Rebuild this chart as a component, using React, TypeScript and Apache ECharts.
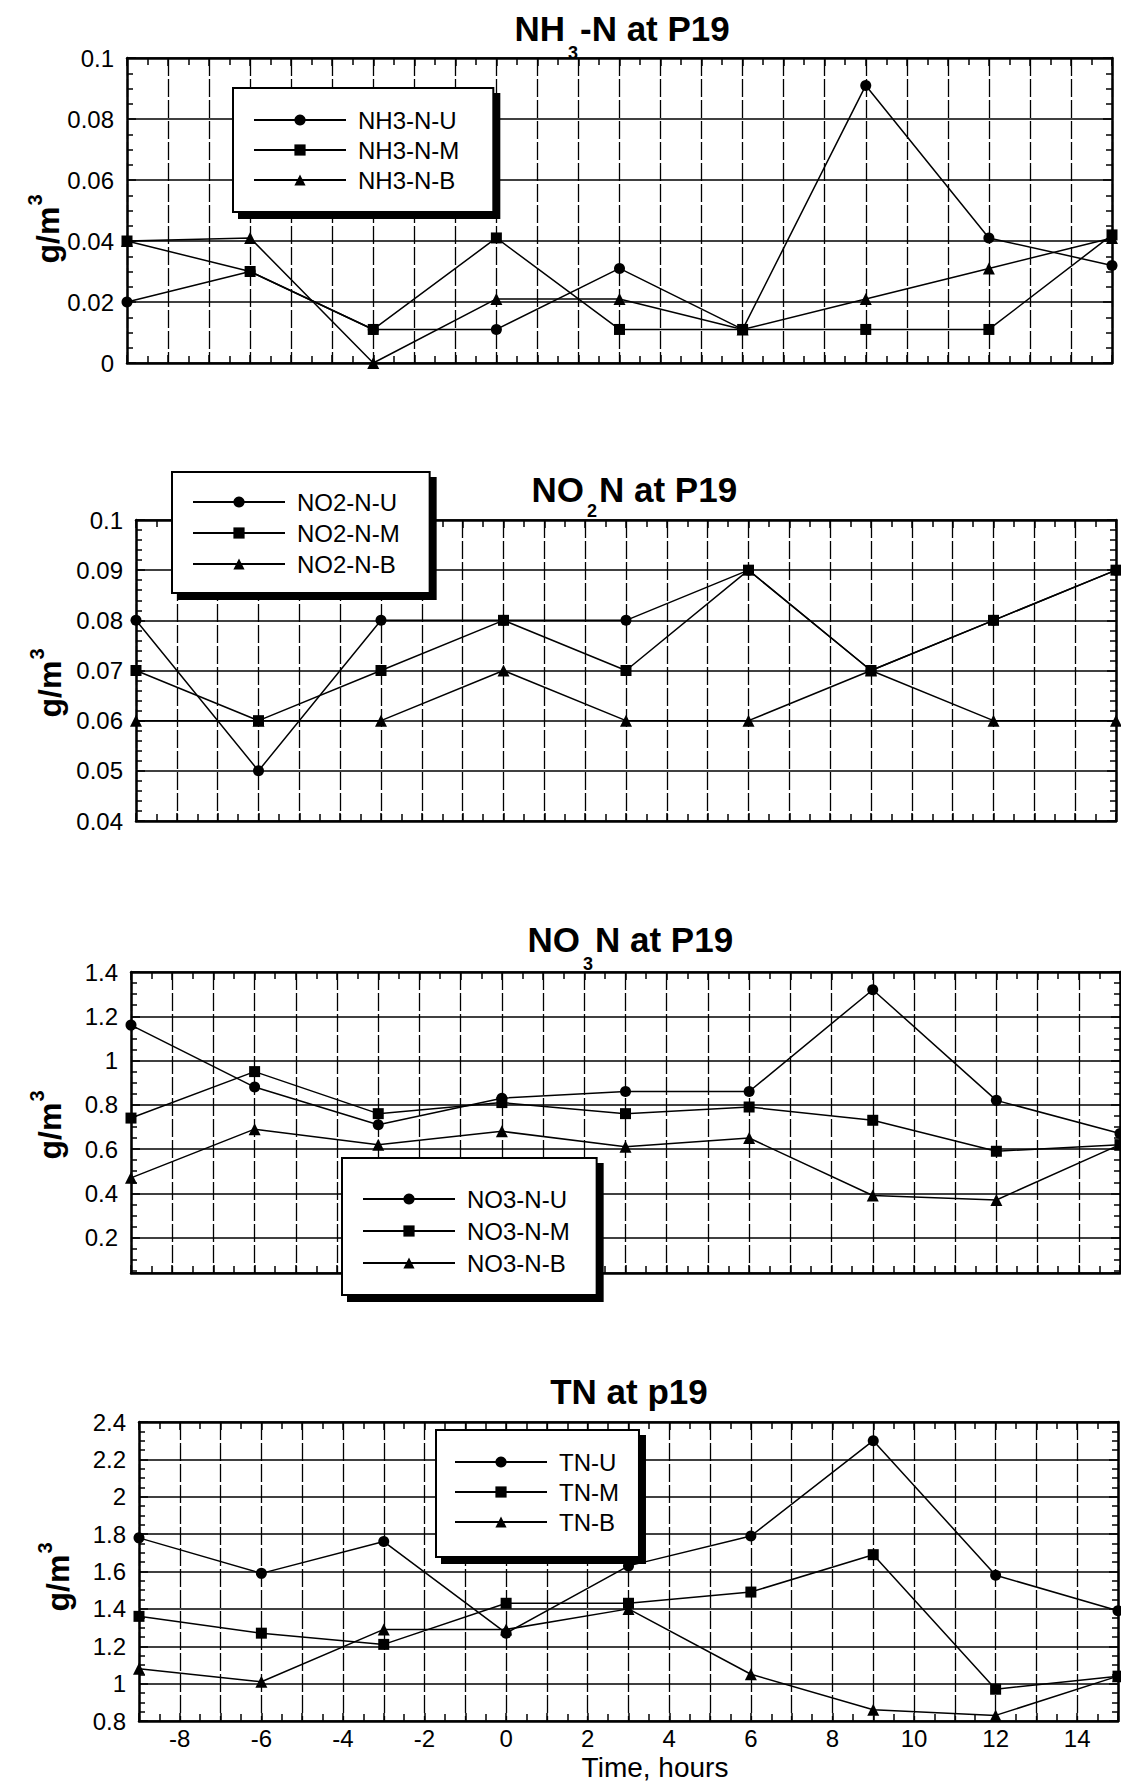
import React, { useEffect, useRef } from 'react';
import * as echarts from 'echarts';

// ---------- data ----------
const hours = [-9, -6, -3, 0, 3, 6, 9, 12, 15];

const nh3Names = ['NH3-N-U', 'NH3-N-M', 'NH3-N-B'];
const nh3U = [0.02, 0.03, 0.011, 0.011, 0.031, 0.011, 0.091, 0.041, 0.032];
const nh3M = [0.04, 0.03, 0.011, 0.041, 0.011, 0.011, 0.011, 0.011, 0.042];
const nh3B = [0.04, 0.041, 0.0, 0.021, 0.021, 0.011, 0.021, 0.031, 0.041];

const no2Names = ['NO2-N-U', 'NO2-N-M', 'NO2-N-B'];
const no2U = [0.08, 0.05, 0.08, 0.08, 0.08, 0.09, 0.07, 0.08, 0.09];
const no2M = [0.07, 0.06, 0.07, 0.08, 0.07, 0.09, 0.07, 0.08, 0.09];
const no2B = [0.06, 0.06, 0.06, 0.07, 0.06, 0.06, 0.07, 0.06, 0.06];

const no3Names = ['NO3-N-U', 'NO3-N-M', 'NO3-N-B'];
const no3U = [1.16, 0.88, 0.71, 0.83, 0.86, 0.86, 1.32, 0.82, 0.67];
const no3M = [0.74, 0.95, 0.76, 0.81, 0.76, 0.79, 0.73, 0.59, 0.62];
const no3B = [0.47, 0.69, 0.62, 0.68, 0.61, 0.65, 0.39, 0.37, 0.62];

const tnNames = ['TN-U', 'TN-M', 'TN-B'];
const tnU = [1.78, 1.59, 1.76, 1.27, 1.63, 1.79, 2.3, 1.58, 1.39];
const tnM = [1.36, 1.27, 1.21, 1.43, 1.43, 1.49, 1.69, 0.97, 1.04];
const tnB = [1.08, 1.01, 1.29, 1.29, 1.4, 1.05, 0.86, 0.83, 1.04];

const xMin = -9;
const xMax = 15;
const xTitle = 'Time, hours';
const yTitle = 'g/m';

// ---------- layout / styling ----------
const FONT = "'Liberation Sans', Arial, Helvetica, sans-serif";
const SYMBOLS = ['circle', 'rect', 'triangle'];
const SIZES = [11, 11, 12];

type Panel = {
  names: string[];
  values: number[][];
  yMin: number;
  yMax: number;
  yInterval?: number;
  ySplitNumber?: number;
  minorSplit: number;
  hideBelow?: number;
  grid: { left: number; right: number; top: number; height: number };
  legend: { left: number; top: number; padding: number[]; itemGap: number };
  title: any;
  yName: { x: number; y: number };
  showX: boolean;
};

const panels: Panel[] = [
  {
    names: nh3Names,
    values: [nh3U, nh3M, nh3B],
    yMin: 0, yMax: 0.1, yInterval: 0.02, minorSplit: 4,
    grid: { left: 127, right: 9, top: 58, height: 305 },
    legend: { left: 233, top: 88, padding: [20, 34, 20, 20], itemGap: 6 },
    title: { pre: 'NH', sub: '3', post: '-N at P19', end: 565, y: 28, subY: 53 },
    yName: { x: 48, y: 226 },
    showX: false,
  },
  {
    names: no2Names,
    values: [no2U, no2M, no2B],
    yMin: 0.04, yMax: 0.1, yInterval: 0.01, minorSplit: 5,
    grid: { left: 136, right: 5, top: 520, height: 301 },
    legend: { left: 172, top: 472, padding: [18, 30, 17, 20], itemGap: 7 },
    title: { pre: 'NO', sub: '2', post: 'N at P19', end: 584, y: 489, subY: 511 },
    yName: { x: 50, y: 680 },
    showX: false,
  },
  {
    names: no3Names,
    values: [no3U, no3M, no3B],
    yMin: 0.04, yMax: 1.4, ySplitNumber: 7, minorSplit: 4, hideBelow: 0.1,
    grid: { left: 131, right: 1, top: 972, height: 301 },
    legend: { left: 342, top: 1158, padding: [29, 27, 20, 20], itemGap: 8 },
    title: { pre: 'NO', sub: '3', post: 'N at P19', end: 580, y: 939, subY: 964 },
    yName: { x: 50, y: 1122 },
    showX: false,
  },
  {
    names: tnNames,
    values: [tnU, tnM, tnB],
    yMin: 0.8, yMax: 2.4, yInterval: 0.2, minorSplit: 4,
    grid: { left: 139, right: -3, top: 1422, height: 299 },
    legend: { left: 436, top: 1430, padding: [20, 20, 23, 18], itemGap: 6 },
    title: { whole: 'TN at p19', cx: 629, y: 1391 },
    yName: { x: 58, y: 1574 },
    showX: true,
  },
];

const BLACK = '#000';
const fmt = (v: number) => String(parseFloat(v.toFixed(3)));

function buildOption() {
  const grid: any[] = [];
  const xAxis: any[] = [];
  const yAxis: any[] = [];
  const series: any[] = [];
  const legend: any[] = [];
  const graphic: any[] = [];

  panels.forEach((p, i) => {
    grid.push({ ...p.grid, containLabel: false });

    const lineStyle = { color: BLACK, width: 2.5 };
    const tickStyle = { color: BLACK, width: 1.5 };

    xAxis.push({
      gridIndex: i, type: 'value', min: xMin, max: xMax, interval: 1,
      axisLine: { show: true, onZero: false, lineStyle },
      axisTick: { show: true, inside: true, length: 8, lineStyle: tickStyle },
      minorTick: { show: true, splitNumber: 2, length: 7, lineStyle: tickStyle },
      splitLine: { show: true, lineStyle: { color: BLACK, width: 1.3, type: [18, 3] } },
      axisLabel: p.showX
        ? { show: true, fontSize: 24, color: BLACK, fontFamily: FONT, margin: 5,
            formatter: (v: number) => (Math.round(v) % 2 === 0 ? String(Math.round(v)) : '') }
        : { show: false },
    });
    xAxis.push({
      gridIndex: i, type: 'value', position: 'top', min: xMin, max: xMax, interval: 1,
      axisLine: { show: true, onZero: false, lineStyle },
      axisTick: { show: true, inside: true, length: 8, lineStyle: tickStyle },
      minorTick: { show: true, splitNumber: 2, length: 7, lineStyle: tickStyle },
      splitLine: { show: false },
      axisLabel: { show: false },
    });

    const yScale: any = { min: p.yMin, max: p.yMax };
    if (p.yInterval) yScale.interval = p.yInterval;
    if (p.ySplitNumber) yScale.splitNumber = p.ySplitNumber;

    yAxis.push({
      gridIndex: i, type: 'value', position: 'left', ...yScale,
      axisLine: { show: true, onZero: false, lineStyle },
      axisTick: { show: true, inside: true, length: 9, lineStyle: tickStyle },
      minorTick: { show: true, splitNumber: p.minorSplit, length: 6, lineStyle: tickStyle },
      splitLine: { show: true, lineStyle: { color: BLACK, width: 1.6 } },
      axisLabel: {
        show: true, fontSize: 24, color: BLACK, fontFamily: FONT, margin: 13,
        formatter: (v: number) => (p.hideBelow !== undefined && v < p.hideBelow ? '' : fmt(v)),
      },
    });
    yAxis.push({
      gridIndex: i, type: 'value', position: 'right', ...yScale,
      axisLine: { show: true, onZero: false, lineStyle },
      axisTick: { show: true, inside: true, length: 9, lineStyle: tickStyle },
      minorTick: { show: true, splitNumber: p.minorSplit, length: 6, lineStyle: tickStyle },
      splitLine: { show: false },
      axisLabel: { show: false },
    });

    p.names.forEach((name, k) => {
      series.push({
        name, type: 'line',
        xAxisIndex: 2 * i, yAxisIndex: 2 * i,
        data: hours.map((h, j) => [h, p.values[k][j]]),
        symbol: SYMBOLS[k], symbolSize: SIZES[k],
        lineStyle: { color: BLACK, width: 1.5 },
        itemStyle: { color: BLACK },
        clip: false, z: 5,
      });
    });

    legend.push({
      data: p.names,
      orient: 'vertical',
      left: p.legend.left, top: p.legend.top,
      padding: p.legend.padding,
      itemGap: p.legend.itemGap,
      itemWidth: 92, itemHeight: 14,
      selectedMode: false,
      backgroundColor: '#fff',
      borderColor: BLACK, borderWidth: 2,
      shadowColor: BLACK, shadowBlur: 0, shadowOffsetX: 6, shadowOffsetY: 6,
      textStyle: { fontSize: 24, color: BLACK, fontFamily: FONT, padding: [0, 0, 0, 7] },
      z: 10,
    });

    // titles
    const t: any = p.title;
    const tStyle = { fontSize: 35, fontWeight: 'bold', fontFamily: FONT, fill: BLACK, verticalAlign: 'middle' };
    if (t.whole) {
      graphic.push({ type: 'text', x: t.cx, y: t.y, style: { ...tStyle, text: t.whole, align: 'center' } });
    } else {
      graphic.push({ type: 'text', x: t.end, y: t.y, style: { ...tStyle, text: t.pre, align: 'right' } });
      graphic.push({ type: 'text', x: t.end + 8, y: t.subY, style: { ...tStyle, fontSize: 18, text: t.sub, align: 'center' } });
      graphic.push({ type: 'text', x: t.end + 15, y: t.y, style: { ...tStyle, text: t.post, align: 'left' } });
    }

    // y-axis name g/m³
    graphic.push({
      type: 'group', x: p.yName.x, y: p.yName.y, rotation: Math.PI / 2,
      children: [
        { type: 'text', x: -9, y: 0, style: { text: yTitle, fontSize: 32, fontWeight: 'bold', fontFamily: FONT, fill: BLACK, align: 'center', verticalAlign: 'middle' } },
        { type: 'text', x: 26, y: -13, style: { text: '3', fontSize: 20, fontWeight: 'bold', fontFamily: FONT, fill: BLACK, align: 'center', verticalAlign: 'middle' } },
      ],
    });
  });

  graphic.push({
    type: 'text', x: 655, y: 1767,
    style: { text: xTitle, fontSize: 28, fontFamily: FONT, fill: BLACK, align: 'center', verticalAlign: 'middle' },
  });

  return {
    animation: false,
    backgroundColor: '#fff',
    textStyle: { fontFamily: FONT },
    grid, xAxis, yAxis, series, legend, graphic,
  };
}

export default function App() {
  const ref = useRef<HTMLDivElement>(null);
  useEffect(() => {
    document.body.style.margin = '0';
    if (!ref.current) return;
    const chart = echarts.init(ref.current, undefined, { renderer: 'svg' });
    chart.setOption(buildOption() as any);
    return () => chart.dispose();
  }, []);
  return <div ref={ref} style={{ width: 1121, height: 1786, background: '#fff' }} />;
}
